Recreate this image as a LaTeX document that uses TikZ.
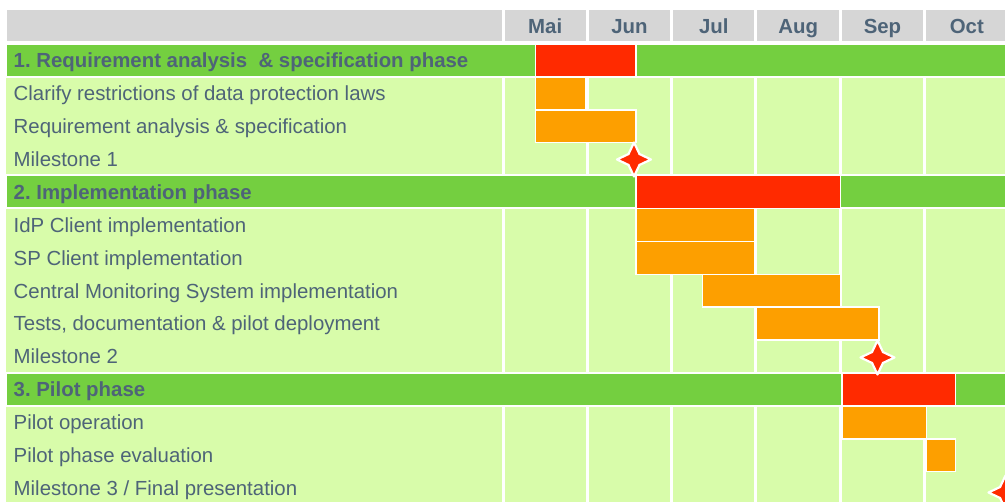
\documentclass[tikz,border=0pt]{standalone}
\usepackage{fontspec}
\setmainfont{Liberation Sans}
\usetikzlibrary{shapes.geometric}
\definecolor{headgray}{HTML}{D6D6D6}
\definecolor{phasegreen}{HTML}{74CF40}
\definecolor{taskgreen}{HTML}{D8FCAA}
\definecolor{barred}{HTML}{FF2A00}
\definecolor{barorange}{HTML}{FD9F00}
\definecolor{txtblue}{HTML}{4E6478}
\frenchspacing
\tikzset{
  tasklabel/.style={anchor=base west,inner sep=0pt,text=txtblue,font=\fontsize{20.4}{24}\selectfont},
  phaselabel/.style={tasklabel,font=\fontsize{20.4}{24}\selectfont\bfseries},
  monthlabel/.style={anchor=base,inner sep=0pt,text=txtblue,font=\fontsize{20.4}{24}\selectfont\bfseries},
  ganttbar/.style={draw=white,line width=1.5pt},
  milestone/.style={star,star points=4,star point ratio=2.2,minimum size=34pt,inner sep=0pt,
    fill=barred,draw=white,line width=2.2pt,line join=round}
}
\begin{document}
\begin{tikzpicture}[x=1pt,y=-1pt]
  \pgfmathsetmacro{\rowh}{32.9}
  \pgfmathsetmacro{\rowtop}{11.1}
  \pgfmathsetmacro{\colw}{84.33}
  \pgfmathsetmacro{\colx}{503}
  \useasboundingbox[fill=white] (0,0) rectangle (1005,502);
  \fill[headgray] (7,10) rectangle (502,41.3);
  \foreach \m [count=\k from 0] in {Mai,Jun,Jul,Aug,Sep,Oct} {
    \fill[headgray] (\colx+\k*\colw+1.5,10) rectangle (\colx+\k*\colw+\colw-1.5,41.3);
    \node[monthlabel] (month\k) at (\colx+\k*\colw+0.5*\colw,33.3) {\m};
  }
  \foreach \i in {1,5,11}
    \fill[phasegreen] (7,\rowtop+\i*\rowh+0.8) rectangle (1010,\rowtop+\i*\rowh+\rowh-1.2);
  \foreach \a/\b in {2/4,6/10,12/14} {
    \fill[taskgreen] (6,\rowtop+\a*\rowh+0.8) rectangle (502,\rowtop+\b*\rowh+\rowh-1.2);
    \foreach \k in {0,...,5}
      \fill[taskgreen] (\colx+\k*\colw+1.5,\rowtop+\a*\rowh+0.8) rectangle (\colx+\k*\colw+\colw-1.5,\rowtop+\b*\rowh+\rowh-1.2);
  }
  \foreach \i/\xa/\xb/\c in {1/535.5/636/barred,2/535.5/586/barorange,3/535.5/636/barorange,
      5/636/840.3/barred,6/636/755/barorange,7/636/755/barorange,8/702.5/840.3/barorange,9/756/879/barorange,
      11/842/955.5/barred,12/842/926.4/barorange,13/926.2/955.5/barorange}
    \filldraw[ganttbar,fill=\c] (\xa,\rowtop+\i*\rowh) rectangle (\xb,\rowtop+\i*\rowh+\rowh);
  \foreach \i/\txt in {1/{1. Requirement analysis \ \& specification phase},5/{2. Implementation phase},11/{3. Pilot phase}}
    \node[phaselabel] (phase\i) at (13.5,\rowtop+\i*\rowh+23.8) {\txt};
  \foreach \i/\txt in {2/{Clarify restrictions of data protection laws},3/{Requirement analysis \& specification},
      4/{Milestone 1},6/{IdP Client implementation},7/{SP Client implementation},
      8/{Central Monitoring System implementation},9/{Tests, documentation \& pilot deployment},
      10/{Milestone 2},12/{Pilot operation},13/{Pilot phase evaluation},14/{Milestone 3 / Final presentation}}
    \node[tasklabel] (task\i) at (13.5,\rowtop+\i*\rowh+23.8) {\txt};
  \node[milestone] (ms1) at (634,159.5) {};
  \node[milestone] (ms2) at (877.5,357.5) {};
  \node[milestone] (ms3) at (1005.5,492.5) {};
\end{tikzpicture}
\end{document}
